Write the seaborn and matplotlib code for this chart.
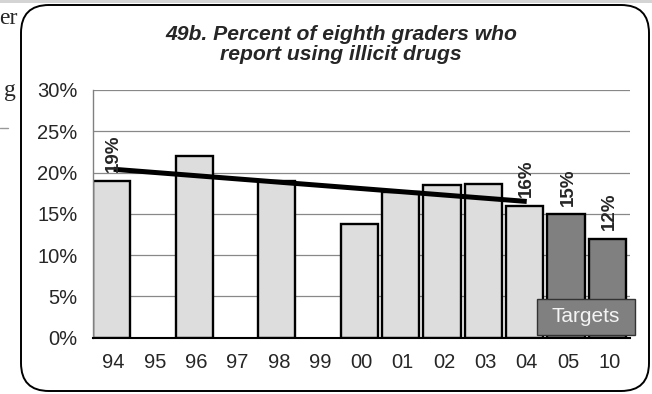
import numpy as np
import pandas as pd
import matplotlib
matplotlib.use("Agg")
import matplotlib.pyplot as plt
from matplotlib.patches import Rectangle, FancyBboxPatch
from matplotlib.lines import Line2D
from matplotlib.transforms import IdentityTransform
import seaborn as sns

# ---------------- data ----------------
categories = ['94', '95', '96', '97', '98', '99', '00', '01', '02', '03', '04', '05', '10']
bar_years = ['94', '96', '98', '00', '01', '02', '03', '04', '05', '10']
bar_pct = [19, 22, 19, 13.8, 17.6, 18.5, 18.6, 16, 15, 12]
bar_kind = ['Actual'] * 8 + ['Target'] * 2
label_years = ['94', '04', '05', '10']
label_text = ['19%', '16%', '15%', '12%']
trend_years = ['94', '04']
trend_pct = [20.4, 16.5]
y_ticks = [0, 5, 10, 15, 20, 25, 30]
y_tick_labels = ['0%', '5%', '10%', '15%', '20%', '25%', '30%']
title_lines = ['49b. Percent of eighth graders who', 'report using illicit drugs']

df = pd.DataFrame({'year': bar_years, 'pct': bar_pct, 'kind': bar_kind})

# ---------------- style ----------------
sns.set_style('white')
plt.rcParams['font.family'] = ['Liberation Sans', 'DejaVu Sans']

W, H = 652, 394
fig = plt.figure(figsize=(W / 100, H / 100), dpi=100)
ax = fig.add_axes([93 / W, 1 - 337.7 / H, 537 / W, 247.7 / H])

sns.barplot(data=df, x='year', y='pct', hue='kind', order=categories,
            hue_order=['Actual', 'Target'],
            palette={'Actual': '#DDDDDD', 'Target': '#808080'},
            saturation=1, dodge=False, width=0.9, edgecolor='black',
            linewidth=1.7, legend=False, ax=ax, zorder=2)
# Excel-style: bars aligned to the left of each category slot
for p in ax.patches:
    p.set_x(p.get_x() - 0.05)

ax.set_xlim(-0.5, len(categories) - 0.5)
ax.set_ylim(0, 30)

# trend line
tx = [categories.index(y) for y in trend_years]
ax.plot(tx, trend_pct, color='black', lw=3.6, solid_capstyle='butt', zorder=4)

# data labels
val = dict(zip(bar_years, bar_pct))
for yr, txt in zip(label_years, label_text):
    ax.annotate(txt, (categories.index(yr), val[yr]), xytext=(0, 6),
                textcoords='offset points', rotation=90, ha='center', va='bottom',
                fontsize=13.5, fontweight='bold', zorder=5)

# axes styling
ax.set_yticks(y_ticks)
ax.set_yticklabels(y_tick_labels, fontsize=14.5)
ax.set_xticks(range(len(categories)))
ax.set_xticklabels(categories, fontsize=14.5)
ax.set_xticks(np.arange(-0.5, len(categories), 1.0), minor=True)
ax.tick_params(axis='x', which='major', length=0, pad=11)
ax.tick_params(axis='x', which='minor', length=5, width=1, color='black', direction='out')
ax.tick_params(axis='y', which='major', length=6, width=1, color='#808080', direction='out', pad=5)
ax.set_xlabel('')
ax.set_ylabel('')
ax.yaxis.grid(True, color='#888888', lw=0.9, zorder=0)
ax.set_axisbelow(True)
for s in ['top', 'right']:
    ax.spines[s].set_visible(False)
ax.spines['left'].set_color('#808080')
ax.spines['left'].set_linewidth(1)
ax.spines['bottom'].set_color('black')
ax.spines['bottom'].set_linewidth(1.5)

# Targets box
ax.add_patch(Rectangle(((537 - 93) / 537, (337.7 - 335) / 247.7), 98 / 537, 36 / 247.7,
                       transform=ax.transAxes, facecolor='#808080', edgecolor='#333333',
                       lw=1, clip_on=False, zorder=6))
ax.text((586 - 93) / 537, (337.7 - 317) / 247.7, 'Targets', transform=ax.transAxes,
        ha='center', va='center', color='#F4F4F4', fontsize=15, zorder=7, clip_on=False)

# title
fig.text(341 / W, 1 - 40 / H, title_lines[0], ha='center', va='baseline',
         fontsize=15.2, fontweight='bold', fontstyle='italic')
fig.text(341 / W, 1 - 60.5 / H, title_lines[1], ha='center', va='baseline',
         fontsize=15.2, fontweight='bold', fontstyle='italic')

# page context: gray band, rounded frame, cut-off document text
fig.add_artist(Rectangle((0, 1 - 3 / H), 1, 3 / H, transform=fig.transFigure,
                         facecolor='#D4D4D4', edgecolor='none'))
fig.add_artist(FancyBboxPatch((21, H - 391), 628, 386,
                              boxstyle='round,pad=0,rounding_size=28',
                              transform=IdentityTransform(), fill=False,
                              edgecolor='black', lw=1.4))
fig.text(18 / W, 1 - 24 / H, 'er', ha='right', va='baseline', fontsize=17,
         family=['Liberation Serif', 'DejaVu Serif'])
fig.text(16 / W, 1 - 96 / H, 'g', ha='right', va='baseline', fontsize=17,
         family=['Liberation Serif', 'DejaVu Serif'])
fig.add_artist(Line2D([0, 8 / W], [1 - 128 / H, 1 - 128 / H], transform=fig.transFigure,
                      color='#999999', lw=1))

fig.savefig('out.png', dpi=100)
